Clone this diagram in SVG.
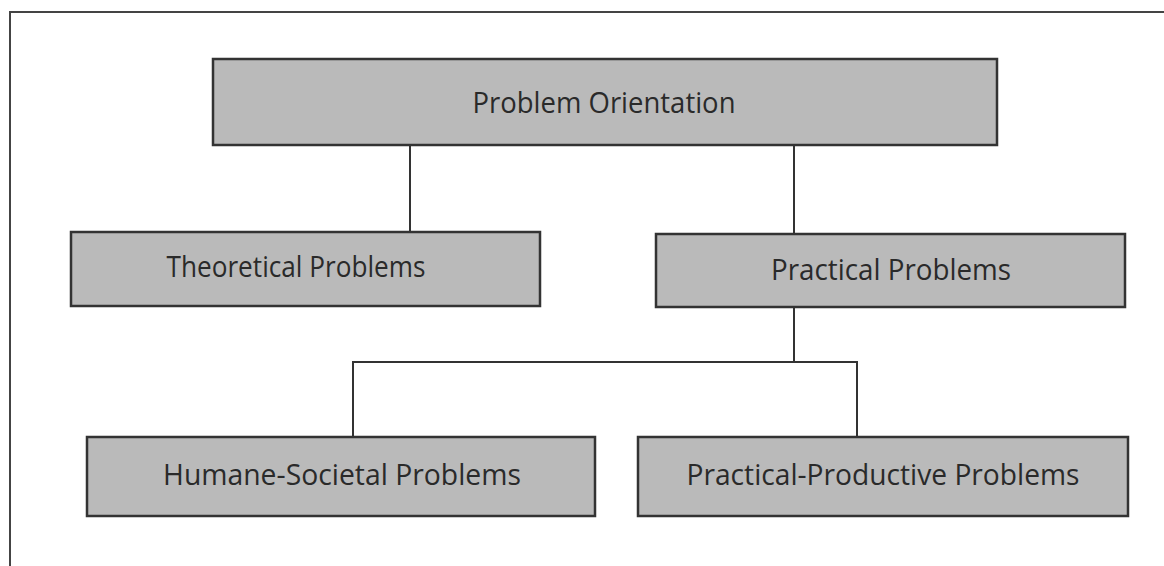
<svg xmlns="http://www.w3.org/2000/svg" width="1164" height="566" viewBox="0 0 1164 566">
  <style>
    .box { fill: #bababa; stroke: #333333; stroke-width: 2.5; }
    .label { font-family: "Open Sans", "Noto Sans", "Liberation Sans", sans-serif; font-size: 29px; fill: #2a2a2a; text-anchor: middle; }
    .link { fill: none; stroke: #333333; stroke-width: 2; }
    .frame { fill: none; stroke: #444444; stroke-width: 2; }
  </style>
  <rect x="0" y="0" width="1164" height="566" fill="#ffffff"/>

  <!-- page frame: top and left rules -->
  <path class="frame" d="M10,566 V12 H1164"/>

  <g id="connectors">
    <line class="link" x1="410" y1="145" x2="410" y2="232"/>
    <line class="link" x1="794" y1="145" x2="794" y2="234"/>
    <line class="link" x1="794" y1="307" x2="794" y2="362"/>
    <path class="link" d="M353,437 V362 H857 V437"/>
  </g>

  <g id="problem-orientation">
    <rect class="box" x="213" y="59" width="784" height="86"/>
    <text class="label" x="604" y="113" textLength="263" lengthAdjust="spacingAndGlyphs">Problem Orientation</text>
  </g>

  <g id="theoretical-problems">
    <rect class="box" x="71" y="232" width="469" height="74"/>
    <text class="label" x="296" y="277" textLength="259" lengthAdjust="spacingAndGlyphs">Theoretical Problems</text>
  </g>

  <g id="practical-problems">
    <rect class="box" x="656" y="234" width="469" height="73"/>
    <text class="label" x="891" y="280" textLength="240" lengthAdjust="spacingAndGlyphs">Practical Problems</text>
  </g>

  <g id="humane-societal-problems">
    <rect class="box" x="87" y="437" width="508" height="79"/>
    <text class="label" x="342" y="485" textLength="358" lengthAdjust="spacingAndGlyphs">Humane-Societal Problems</text>
  </g>

  <g id="practical-productive-problems">
    <rect class="box" x="638" y="437" width="490" height="79"/>
    <text class="label" x="883" y="485" textLength="393" lengthAdjust="spacingAndGlyphs">Practical-Productive Problems</text>
  </g>
</svg>
